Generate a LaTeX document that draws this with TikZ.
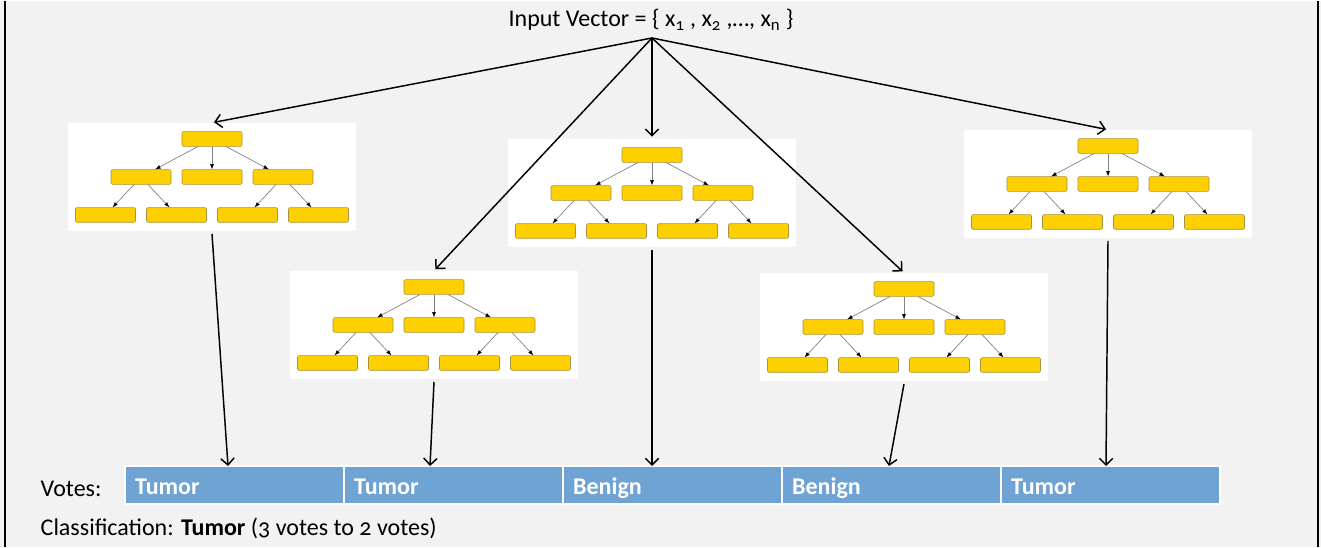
\documentclass[tikz,border=0pt]{standalone}
\usepackage{fontspec}
\setmainfont[Numbers=OldStyle]{Carlito}
\usetikzlibrary{arrows.meta,positioning}
\definecolor{slidegray}{HTML}{F2F2F2}
\definecolor{leaf}{HTML}{FFD000}
\definecolor{leafline}{HTML}{A8923A}
\definecolor{votebar}{HTML}{6FA3D3}
\begin{document}
\begin{tikzpicture}[x=0.75pt,y=-0.75pt,
  font=\fontsize{18}{21}\selectfont,
  level distance=28.5pt,
  sibling distance=53.25pt,
  box/.style={rectangle,rounded corners=1pt,fill=leaf,draw=leafline,
    minimum width=45pt,minimum height=11pt,inner sep=0pt},
  every child node/.style={box},
  edge from parent/.style={draw=gray,line width=0.5pt,-{Latex[length=4pt,width=3pt,color=black]}},
  panel/.style={fill=white,minimum width=216pt,minimum height=81pt,inner sep=0pt},
  vote/.style={fill=votebar,draw=white,line width=1pt,outer sep=0pt,minimum width=164.25pt,
    minimum height=28.5pt,text width=149pt,inner xsep=7.5pt,align=left,
    text height=16pt,text depth=1pt,
    text=white,font=\fontsize{18}{21}\selectfont\bfseries},
  arr/.style={-{Straight Barb[length=5pt,width=10pt]},line width=1.1pt}]
% slide background
\fill[slidegray] (0,0) rectangle (1321,546);
\draw[line width=1.5pt] (5,0) -- (5,546);
\draw[line width=1.5pt] (1318,0) -- (1318,546);

\node (input) at (651,19) {Input Vector = \{ x\textsubscript{1} , x\textsubscript{2} ,\dots, x\textsubscript{n} \}};
\coordinate (top) at (652,37);

% the five trees
\foreach \i/\px/\py in {1/212/176, 2/434/324, 3/652/192, 4/904/326, 5/1108/183} {
  \node[panel] (p\i) at (\px,\py) {};
  \node[box] (r\i) at (\px,\py-38) {}
    child {node {}
      child {node {}}
      child {node {}}
    }
    child {node {}}
    child {node {}
      child {node {}}
      child {node {}}
    };
}
\foreach \i in {1,...,5}
  \draw[arr,shorten >=1.5pt] (top) -- (p\i.north);

% votes
\node[vote] (v1) at (234.5,484) {Tumor};
\node[vote,right=0pt of v1] (v2) {Tumor};
\node[vote,right=0pt of v2] (v3) {Benign};
\node[vote,right=0pt of v3] (v4) {Benign};
\node[vote,right=0pt of v4] (v5) {Tumor};

\foreach \i/\dx in {1/-6.5, 2/-23.5, 3/-20.5, 4/-2.5, 5/-4.5}
  \draw[arr] ([yshift=-2pt]p\i.south) -- ([xshift=\dx*0.75pt]v\i.north);

\node[anchor=west] (votes) at (36,488) {Votes:};
\node[anchor=west] (result) at (36,527) {Classification: \textbf{Tumor} (3 votes to 2 votes)};
\end{tikzpicture}
\end{document}
